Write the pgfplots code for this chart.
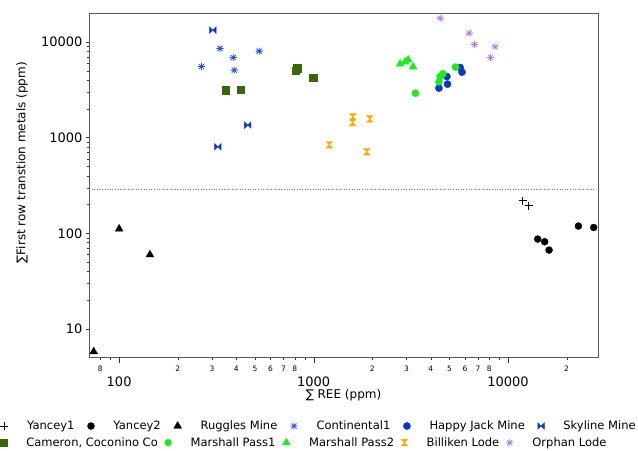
\documentclass[border=0pt]{standalone}
\usepackage{fontspec}
\setmainfont{DejaVu Sans}
\usepackage{pgfplots}
\pgfplotsset{compat=1.18}

\definecolor{contblue}{RGB}{40,80,230}
\definecolor{jackblue}{RGB}{10,55,200}
\definecolor{camgreen}{RGB}{55,105,10}
\definecolor{mpgreen}{RGB}{30,235,30}
\definecolor{billorange}{RGB}{255,170,0}
\definecolor{orphpurple}{RGB}{175,125,240}

% eight-armed asterisk, bow tie and hourglass marks
\pgfdeclareplotmark{ast8}{%
  \pgfpathmoveto{\pgfqpoint{-\pgfplotmarksize}{0pt}}%
  \pgfpathlineto{\pgfqpoint{\pgfplotmarksize}{0pt}}%
  \pgfpathmoveto{\pgfqpoint{0pt}{-\pgfplotmarksize}}%
  \pgfpathlineto{\pgfqpoint{0pt}{\pgfplotmarksize}}%
  \pgfpathmoveto{\pgfqpoint{-.7071\pgfplotmarksize}{-.7071\pgfplotmarksize}}%
  \pgfpathlineto{\pgfqpoint{.7071\pgfplotmarksize}{.7071\pgfplotmarksize}}%
  \pgfpathmoveto{\pgfqpoint{-.7071\pgfplotmarksize}{.7071\pgfplotmarksize}}%
  \pgfpathlineto{\pgfqpoint{.7071\pgfplotmarksize}{-.7071\pgfplotmarksize}}%
  \pgfusepathqstroke}
\pgfdeclareplotmark{bowtie}{%
  \pgfpathmoveto{\pgfqpoint{-\pgfplotmarksize}{-\pgfplotmarksize}}%
  \pgfpathlineto{\pgfqpoint{\pgfplotmarksize}{\pgfplotmarksize}}%
  \pgfpathlineto{\pgfqpoint{\pgfplotmarksize}{-\pgfplotmarksize}}%
  \pgfpathlineto{\pgfqpoint{-\pgfplotmarksize}{\pgfplotmarksize}}%
  \pgfpathclose
  \pgfusepathqfillstroke}
\pgfdeclareplotmark{hourglass}{%
  \pgfpathmoveto{\pgfqpoint{-\pgfplotmarksize}{\pgfplotmarksize}}%
  \pgfpathlineto{\pgfqpoint{\pgfplotmarksize}{\pgfplotmarksize}}%
  \pgfpathlineto{\pgfqpoint{-\pgfplotmarksize}{-\pgfplotmarksize}}%
  \pgfpathlineto{\pgfqpoint{\pgfplotmarksize}{-\pgfplotmarksize}}%
  \pgfpathclose
  \pgfusepathqfillstroke}

\pgfplotsset{
  om/.style={only marks,
    legend image code/.code={\draw[##1] plot coordinates {(0pt,0pt)};}},
  rowlegend/.style={legend columns=-1,
    legend style={draw=none, fill=none, inner sep=0pt, anchor=west,
      font=\fontsize{11.5}{13}\selectfont,
      /tikz/every odd column/.append style={column sep=17pt},
      /tikz/every even column/.append style={column sep=#1}}},
}

\begin{document}
\begin{tikzpicture}
\begin{axis}[
  name=main,
  xmode=log, ymode=log,
  scale only axis, width=509pt, height=344pt,
  xmin=70, xmax=29000, ymin=5.1, ymax=20000,
  axis line style={black!65},
  tick style={black!80},
  tick align=outside,
  xtick pos=bottom, ytick pos=left,
  major tick length=3pt, minor tick length=2.5pt,
  xminorticks=false,
  xtick={80,90,200,300,400,500,600,700,800,900,2000,3000,4000,5000,6000,7000,8000,9000,20000},
  xticklabels={8,,2,3,4,5,6,7,8,,2,3,4,5,6,7,8,,2},
  xticklabel style={font=\fontsize{7.5}{8}\selectfont, inner sep=1pt, yshift=-5pt},
  extra x ticks={100,1000,10000},
  extra x tick labels={100,1000,10000},
  extra x tick style={major tick length=6pt,
    xticklabel style={font=\fontsize{13}{14}\selectfont, yshift=-8pt}},
  ytick={10,100,1000,10000},
  yticklabels={10,100,1000,10000},
  yticklabel style={font=\fontsize{13}{14}\selectfont},
  /pgf/number format/assume math mode=true,
  xlabel={∑ REE (ppm)},
  ylabel={∑First row transtion metals (ppm)},
  label style={font=\fontsize{12}{14}\selectfont},
  xlabel style={at={(axis description cs:0.5,-0.11)}, anchor=center},
  ylabel style={at={(axis description cs:-0.1316,0.565)}, anchor=center},
  rowlegend=11pt,
  legend style={at={(axis description cs:-0.1749,-0.2006)}},
]
\addplot[forget plot, black!55, dotted, line width=0.6pt] coordinates {(70,290) (27800,290)};

\addplot[om, mark=+, mark size=4, mark options={draw=black, line width=0.8pt}]
  coordinates {(11880,218) (12750,194)};
\addlegendentry{Yancey1}
\addplot[om, mark=*, mark size=3.5, mark options={draw=black, fill=black}]
  coordinates {(14200,87) (15420,81.6) (16240,66.8) (23000,119) (27560,115)};
\addlegendentry{Yancey2}
\addplot[om, mark=triangle*, mark size=4.5, mark options={draw=black, fill=black}]
  coordinates {(74,5.8) (100,111) (144,59.7)};
\addlegendentry{Ruggles Mine}
\addplot[om, mark=ast8, mark size=3.6, mark options={draw=contblue, line width=0.8pt}]
  coordinates {(330,8510) (386,6855) (525,7995) (265,5520) (391,5060)};
\addlegendentry{Continental1}
\addplot[om, mark=*, mark size=3.6, mark options={draw=jackblue, fill=jackblue}]
  coordinates {(4410,3285) (4880,3615) (4846,4342) (5674,5390) (5793,4820)};
\addlegendentry{Happy Jack Mine}
\addplot[om, mark=bowtie, mark size=3.3, mark options={draw=jackblue, fill=jackblue}]
  coordinates {(303,13240) (458,1349) (322,801)};
\addlegendentry{Skyline Mine}

\addplot[forget plot, only marks, mark=square*, mark size=3.6, mark options={draw=camgreen, fill=camgreen}]
  coordinates {(353,3130) (420,3180) (811,4980) (824,5310) (996,4210)};
\addplot[forget plot, only marks, mark=*, mark size=3.6, mark options={draw=mpgreen, fill=mpgreen}]
  coordinates {(3340,2910) (4410,3820) (4477,4342) (4620,4630) (5370,5440)};
\addplot[forget plot, only marks, mark=triangle*, mark size=4.5, mark options={draw=mpgreen, fill=mpgreen}]
  coordinates {(2786,5890) (2955,6180) (3064,6490) (3250,5480)};
\addplot[forget plot, only marks, mark=hourglass, mark size=3.3, mark options={draw=billorange, fill=billorange}]
  coordinates {(1205,840) (1590,1640) (1590,1440) (1945,1570) (1877,710)};
\addplot[forget plot, only marks, mark=ast8, mark size=3.6, mark options={draw=orphpurple, line width=0.8pt}]
  coordinates {(4477,17670) (6310,12330) (6730,9370) (8570,8870) (8130,6855)};
\end{axis}

% second row of the legend
\begin{axis}[
  at={(main.south west)}, anchor=south west,
  xmode=log, ymode=log,
  scale only axis, width=509pt, height=344pt,
  xmin=70, xmax=29000, ymin=5.1, ymax=20000,
  hide axis,
  rowlegend=5pt,
  legend style={at={(axis description cs:-0.1749,-0.249)}},
]
\addlegendimage{om, mark=square*, mark size=3.6, mark options={draw=camgreen, fill=camgreen}}
\addlegendentry{Cameron, Coconino Co}
\addlegendimage{om, mark=*, mark size=3.4, mark options={draw=mpgreen, fill=mpgreen}}
\addlegendentry{Marshall Pass1}
\addlegendimage{om, mark=triangle*, mark size=4.5, mark options={draw=mpgreen, fill=mpgreen}}
\addlegendentry{Marshall Pass2}
\addlegendimage{om, mark=hourglass, mark size=3.3, mark options={draw=billorange, fill=billorange}}
\addlegendentry{Billiken Lode}
\addlegendimage{om, mark=ast8, mark size=3.6, mark options={draw=orphpurple, line width=0.8pt}}
\addlegendentry{Orphan Lode}
\end{axis}

\pgfresetboundingbox
\path ([xshift=-89pt,yshift=-93pt]main.south west) rectangle ([xshift=40pt,yshift=13pt]main.north east);
\end{tikzpicture}
\end{document}
